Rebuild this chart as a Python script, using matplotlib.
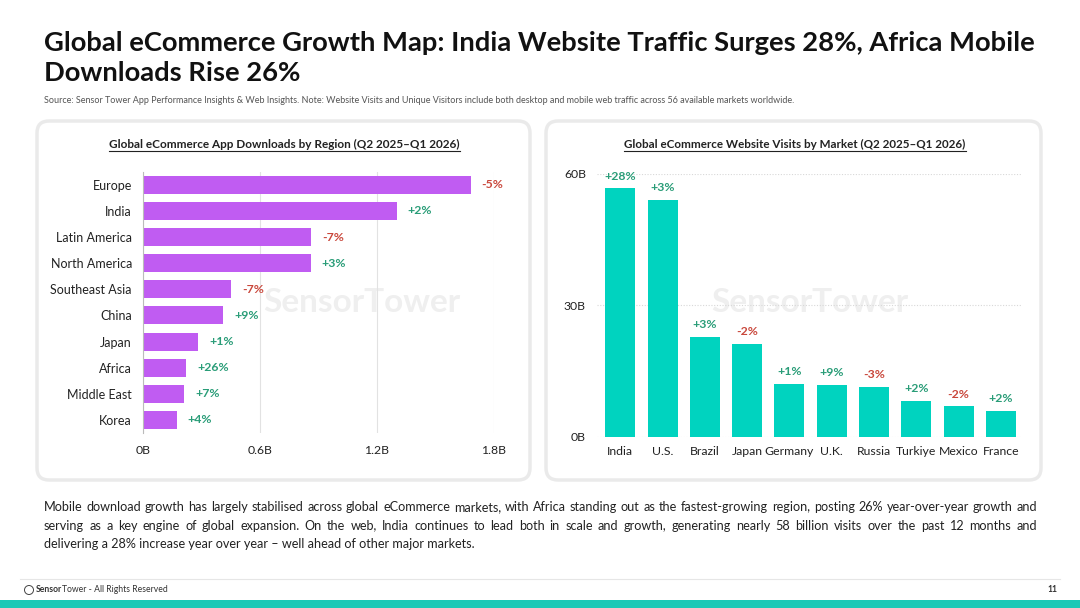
import matplotlib
matplotlib.use("Agg")
import matplotlib.pyplot as plt
from matplotlib.patches import FancyBboxPatch, Rectangle, Circle
from matplotlib.lines import Line2D

# ---------------- data ----------------
regions = ["Europe", "India", "Latin America", "North America", "Southeast Asia",
           "China", "Japan", "Africa", "Middle East", "Korea"]
downloads_b = [1.68, 1.30, 0.86, 0.86, 0.453, 0.412, 0.282, 0.222, 0.21, 0.173]
downloads_growth = ["-5%", "+2%", "-7%", "+3%", "-7%", "+9%", "+1%", "+26%", "+7%", "+4%"]
dl_ticks = [0, 0.6, 1.2, 1.8]
dl_tick_labels = ["0B", "0.6B", "1.2B", "1.8B"]

markets = ["India", "U.S.", "Brazil", "Japan", "Germany", "U.K.", "Russia",
           "Turkiye", "Mexico", "France"]
visits_b = [56.7, 54.1, 22.8, 21.2, 12.0, 11.8, 11.3, 8.2, 6.9, 5.9]
visits_growth = ["+28%", "+3%", "+3%", "-2%", "+1%", "+9%", "-3%", "+2%", "-2%", "+2%"]
vis_ticks = [0, 30, 60]
vis_tick_labels = ["0B", "30B", "60B"]

title_lines = ["Global eCommerce Growth Map: India Website Traffic Surges 28%, Africa Mobile",
               "Downloads Rise 26%"]
subtitle = ("Source: Sensor Tower App Performance Insights & Web Insights. Note: Website Visits and "
            "Unique Visitors include both desktop and mobile web traffic across 56 available markets worldwide.")
left_title = "Global eCommerce App Downloads by Region (Q2 2025\u2013Q1 2026)"
right_title = "Global eCommerce Website Visits by Market (Q2 2025\u2013Q1 2026)"
para_lines = [
    "Mobile download growth has largely stabilised across global eCommerce markets, with Africa standing out as the fastest-growing region, posting 26% year-over-year growth and",
    "serving as a key engine of global expansion. On the web, India continues to lead both in scale and growth, generating nearly 58 billion visits over the past 12 months and",
    "delivering a 28% increase year over year \u2013 well ahead of other major markets.",
]
footer_text = "Tower - All Rights Reserved"
page_no = "11"

# ---------------- style ----------------
plt.rcParams['font.family'] = ['Lato', 'DejaVu Sans']
PURPLE = "#C05CF2"
TEAL = "#00D3BF"
GREEN = "#2A9D78"
RED = "#C9473B"
TXT = "#222222"

W, H = 1080, 608
fig = plt.figure(figsize=(W / 100, H / 100), dpi=100)
fig.patch.set_facecolor("white")
fig.canvas.draw()
renderer = fig.canvas.get_renderer()


def fx(x):
    return x / W


def fy(y):
    return 1 - y / H


def fit_text(xpx, ypx, s, target_w, size0=12, **kw):
    t = fig.text(fx(xpx), fy(ypx), s, fontsize=size0, **kw)
    w = t.get_window_extent(renderer).width
    t.set_fontsize(size0 * target_w / w)
    return t


def justify(line, x0, x1, ypx, size, **kw):
    words = line.split(" ")
    ts = [fig.text(0, fy(ypx), w, fontsize=size, va="baseline", **kw) for w in words]
    widths = [t.get_window_extent(renderer).width for t in ts]
    gap = (x1 - x0 - sum(widths)) / (len(ts) - 1)
    x = x0
    for t, w in zip(ts, widths):
        t.set_x(fx(x))
        x += w + gap


# ---------------- header ----------------
t1 = fit_text(44, 51, title_lines[0], 993, size0=17, fontweight="bold", color="#111111", va="baseline")
fig.text(fx(44), fy(81), title_lines[1], fontweight="bold", color="#111111", va="baseline",
         fontsize=t1.get_fontsize())
fit_text(44, 103, subtitle, 763, size0=6, color="#555555", va="baseline")

# ---------------- panels ----------------
for (x0, x1) in [(37, 530), (546, 1041)]:
    p = FancyBboxPatch((x0 / 100, (H - 480) / 100), (x1 - x0) / 100, (480 - 121) / 100,
                       boxstyle="round,pad=0,rounding_size=0.12",
                       transform=fig.dpi_scale_trans, facecolor="white",
                       edgecolor="#EAEAEA", linewidth=2.5, zorder=-2)
    fig.add_artist(p)

# watermarks
for cx in [362, 810]:
    fig.text(fx(cx), fy(303), "SensorTower", fontsize=24, color="#EFEFEF",
             ha="center", va="center", fontweight="bold", zorder=-1)

# panel titles with underline
for cx, s, target in [(284.5, left_title, 349), (795, right_title, 341)]:
    t = fig.text(fx(cx), fy(148), s, fontsize=8.5, fontweight="bold", color=TXT,
                 ha="center", va="baseline")
    bb = t.get_window_extent(renderer)
    t.set_fontsize(8.5 * target / bb.width)
    bb = t.get_window_extent(renderer)
    fig.add_artist(Line2D([fx(bb.x0), fx(bb.x1)], [fy(150.5), fy(150.5)],
                          transform=fig.transFigure, color=TXT, lw=0.8))

# ---------------- left chart ----------------
axL = fig.add_axes([fx(143), fy(433), (494 - 143) / W, (433 - 171.7) / H])
axL.patch.set_alpha(0)
yp = list(range(len(regions)))
axL.barh(yp, downloads_b, height=0.69, color=PURPLE, zorder=2)
axL.set_ylim(len(regions) - 0.5, -0.5)
axL.set_xlim(0, 1.8)
axL.set_yticks(yp)
axL.set_yticklabels(regions, fontsize=9, color=TXT)
axL.set_xticks(dl_ticks)
axL.set_xticklabels(dl_tick_labels, fontsize=8.8, color=TXT)
axL.tick_params(axis="y", length=0, pad=8)
axL.tick_params(axis="x", length=0, pad=9)
for s in ["top", "right", "bottom"]:
    axL.spines[s].set_visible(False)
axL.spines["left"].set_color("#BBBBBB")
axL.spines["left"].set_linewidth(0.8)
axL.grid(axis="x", color="#E2E2E2", lw=0.8, zorder=0)
axL.set_axisbelow(True)
for i, (v, g) in enumerate(zip(downloads_b, downloads_growth)):
    axL.annotate(g, (v, i), xytext=(8, 0), textcoords="offset points",
                 ha="left", va="center", fontsize=8.8, fontweight="bold",
                 color=RED if g.startswith("-") else GREEN, annotation_clip=False)

# ---------------- right chart ----------------
axR = fig.add_axes([fx(597), fy(436.7), (1022 - 597) / W, (436.7 - 174) / H])
axR.patch.set_alpha(0)
xp = list(range(len(markets)))
axR.bar(xp, visits_b, width=0.71, color=TEAL, zorder=2)
axR.set_xlim(-0.55, len(markets) - 0.5)
axR.set_ylim(0, 60)
axR.set_xticks(xp)
axR.set_xticklabels(markets, fontsize=8.8, color=TXT)
axR.set_yticks(vis_ticks)
axR.set_yticklabels(vis_tick_labels, fontsize=8.8, color=TXT)
axR.tick_params(axis="both", length=0)
axR.tick_params(axis="x", pad=7)
axR.tick_params(axis="y", pad=8)
for s in axR.spines.values():
    s.set_visible(False)
axR.grid(axis="y", color="#D8D8D8", lw=0.8, ls=(0, (1, 1.5)), zorder=0)
axR.set_axisbelow(True)
for i, (v, g) in enumerate(zip(visits_b, visits_growth)):
    axR.annotate(g, (i, v), xytext=(0, 5), textcoords="offset points",
                 ha="center", va="bottom", fontsize=8.8, fontweight="bold",
                 color=RED if g.startswith("-") else GREEN, annotation_clip=False)

# ---------------- paragraph ----------------
probe = fig.text(0, 0, para_lines[0], fontsize=10)
pw = probe.get_window_extent(renderer).width
probe.remove()
psize = 10 * 993 / pw * 0.985
justify(para_lines[0], 44, 1037, 511, psize, color=TXT)
justify(para_lines[1], 44, 1037, 529.5, psize, color=TXT)
fig.text(fx(44), fy(548), para_lines[2], fontsize=psize, color=TXT, va="baseline")

# ---------------- footer ----------------
fig.add_artist(Line2D([fx(20), fx(1060)], [fy(579), fy(579)], transform=fig.transFigure,
                      color="#E6E6E6", lw=0.8))
fig.add_artist(Rectangle((0, 0), 1, fy(600), transform=fig.transFigure,
                         facecolor="#1CC9B6", edgecolor="none"))
fig.add_artist(Circle((29 / 100, (H - 590) / 100), 0.045, transform=fig.dpi_scale_trans,
                      facecolor="none", edgecolor="#444444", lw=0.7))
t_s = fig.text(fx(36), fy(590), "Sensor", fontsize=6.2, fontweight="bold", color="#333333",
               va="center")
bb = t_s.get_window_extent(renderer)
fig.text(fx(bb.x1 - 0.5), fy(590), footer_text, fontsize=6.2, color="#333333", va="center")
fig.text(fx(1057), fy(590), page_no, fontsize=6.2, color="#333333", va="center", ha="right",
         fontweight="bold")

fig.savefig("out.png", dpi=100, facecolor="white")
